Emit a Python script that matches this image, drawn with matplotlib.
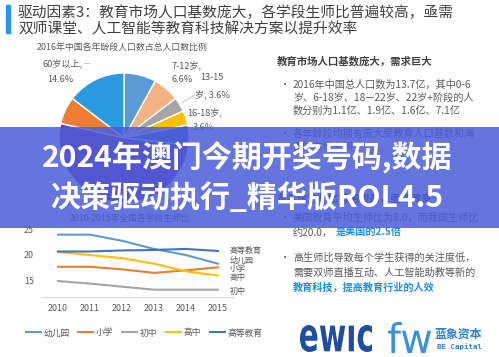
import matplotlib
matplotlib.use("Agg")
import matplotlib.pyplot as plt
from matplotlib.patches import Rectangle, PathPatch
from matplotlib.textpath import TextPath
from matplotlib.font_manager import FontProperties
from matplotlib.transforms import Affine2D

plt.rcParams['font.family'] = ['Noto Sans CJK SC', 'DejaVu Sans']

W, H = 499, 357

# pie: 2016 population share by age group
age_groups = ['0-6岁', '7-12岁', '13-15岁', '16-18岁', '19-25岁', '26-59岁', '51-60岁', '60岁以上']
age_share = [8.0, 6.6, 3.6, 3.6, 5.0, 51.8, 6.8, 14.6]
age_colors = ['#5b9bd5', '#f4b183', '#a5a5a5', '#ffc000', '#4472c4', '#7a3aa8', '#ed7d31', '#2b9ae0']

# line chart: student-teacher ratio 2010-2015
years = ['2010', '2011', '2012', '2013', '2014', '2015']
stages = ['幼儿园', '小学', '初中', '高中', '高等教育']
ratio = {
    '幼儿园': [23.9, 23.9, 22.7, 21.1, 19.9, 18.2],
    '小学': [17.6, 17.6, 17.1, 16.4, 16.9, 17.5],
    '初中': [14.8, 14.3, 13.7, 13.1, 13.1, 13.1],
    '高中': [20.5, 19.9, 19.3, 18.2, 16.7, 15.9],
    '高等教育': [20.6, 20.6, 20.8, 20.9, 21.1, 20.7],
}
stage_colors = {'幼儿园': '#5b9bd5', '小学': '#ed7d31', '初中': '#a5a5a5',
                '高中': '#ffc000', '高等教育': '#4472c4'}
end_label_shift = {'幼儿园': 3, '小学': -1, '初中': -1.5, '高中': -2.5, '高等教育': 1}


def box(x0, y0, x1, y1):
    return [x0 / W, 1 - y1 / H, (x1 - x0) / W, (y1 - y0) / H]


fig = plt.figure(figsize=(W / 100, H / 100), dpi=100)
fig.patch.set_facecolor('white')

bg = fig.add_axes([0, 0, 1, 1])
bg.set_xlim(0, W)
bg.set_ylim(H, 0)
bg.axis('off')

GRAY = '#595959'
DARK = '#404040'
BLUE = '#1e8fe0'

# header
bg.add_patch(Rectangle((6, 5), 4, 28, color='#2196f3'))
bg.text(18, 12.5, '驱动因素3：教育市场人口基数庞大，各学段生师比普遍较高，亟需',
        fontsize=10.6, color=DARK, va='center')
bg.text(18, 29.5, '双师课堂、人工智能等教育科技解决方案以提升效率',
        fontsize=10.6, color=DARK, va='center')
bg.text(37, 48, '2016年中国各年龄段人口数占总人口数比例', fontsize=6.4, color=GRAY, va='center')

# pie chart
pax = fig.add_axes(box(124 - 65, 138 - 65, 124 + 65, 138 + 65))
pax.pie(age_share, colors=age_colors, startangle=90, counterclock=False,
        wedgeprops=dict(edgecolor='white', linewidth=1))
pax.set_xlim(-1, 1)
pax.set_ylim(-1, 1)

lbl = dict(fontsize=6.6, color=GRAY, va='center', ha='left')
bg.text(126, 79, age_groups[0] + ',', **dict(lbl, color='white'))
bg.text(128, 94, '%.1f%%' % age_share[0], **dict(lbl, color='white'))
bg.text(172, 65, age_groups[1] + ',', **lbl)
bg.text(172, 80, '%.1f%%' % age_share[1], **lbl)
bg.text(200, 78, '13-15', **lbl)
bg.text(195, 94, '岁, %.1f%%' % age_share[2], **lbl)
bg.text(187, 112, age_groups[3] + ',', **lbl)
bg.text(193, 128, '%.1f%%' % age_share[3], **lbl)
bg.text(147, 135, age_groups[4] + ',', **dict(lbl, color='white'))
bg.text(152, 149, '%.1f%%' % age_share[4], **dict(lbl, color='white'))
bg.text(80, 159, age_groups[5] + ',', **dict(lbl, color='white'))
bg.text(84, 173, '%.1f%%' % age_share[5], **dict(lbl, color='white'))
bg.text(43, 63, age_groups[7] + ',', **lbl)
bg.text(47, 80, '%.1f%%' % age_share[7], **lbl)
bg.plot([84, 90], [63, 63], color='#bfbfbf', lw=0.6)
bg.plot([196, 182], [94, 103], color='#bfbfbf', lw=0.6)
bg.plot([186, 181], [112, 115], color='#bfbfbf', lw=0.6)

# right text column
bg.text(277, 61, '教育市场人口基数庞大，需求巨大', fontsize=7.5, color=DARK,
        weight='bold', va='center')
body = dict(fontsize=7.3, color=GRAY, va='center')
bg.text(280, 85, '•', **body)
bg.text(293, 85, '2016年中国总人口数为13.7亿，其中0-6', **body)
bg.text(293, 98, '岁、6-18岁、18—22岁、22岁+阶段的人', **body)
bg.text(293, 111, '数分别为1.1亿、1.9亿、1.6亿、7.1亿', **body)
bg.text(280, 134, '•', **body)
bg.text(293, 134, '各年龄段均拥有庞大受教育人口基数和海', **body)
bg.text(293, 147, '量的市场空间', **body)
bg.text(277, 198, '各学段生师比普遍较高，亟需改变', fontsize=7.5, color=DARK,
        weight='bold', va='center')
bg.text(280, 218, '•', **body)
bg.text(293, 218, '美国教育平均生师比为8.0，而我国生师比', **body)
bg.text(293, 233, '约20.0，', **body)
bg.text(336, 233, '是美国的2.5倍', **dict(body, color=BLUE, weight='bold'))
bg.text(280, 258, '•', **body)
bg.text(293, 258, '高生师比导致每个学生获得的关注度低，', **body)
bg.text(293, 273, '需要双师直播互动、人工智能助教等新的', **body)
bg.text(293, 288, '教育科技，提高教育行业的人效', **dict(body, color=BLUE, weight='bold'))

# logos
def logo(txt, x0, y0, x1, y1, color, prop):
    tp = TextPath((0, 0), txt, size=1, prop=prop)
    bb = tp.get_extents()
    tr = Affine2D().translate(-bb.x0, -bb.y0).scale((x1 - x0) / bb.width,
                                                     -(y1 - y0) / bb.height).translate(x0, y1)
    bg.add_patch(PathPatch(tr.transform_path(tp), color=color, lw=0))


logo('ewıc', 300, 325, 372, 352, '#1f4e9e', FontProperties(family='DejaVu Sans', weight='bold'))
logo('fw', 388, 322, 431, 353, '#3a90de', FontProperties(family='DejaVu Sans'))
bg.text(435, 334, '蓝象资本', fontsize=8.6, color='#2b7fd4', weight='bold', va='center')
bg.text(437, 347, 'BE Capital', fontsize=5.3, color='#2b7fd4', weight='bold',
        va='center', family='DejaVu Sans Mono')

# line chart
bg.text(130, 218, '2010-2015年全国各学段生师比', fontsize=6.3, color=GRAY,
        va='center', ha='center')
lax = fig.add_axes(box(42, 226, 234, 297))
xs = list(range(len(years)))
for s in stages:
    lax.plot(xs, ratio[s], color=stage_colors[s], lw=1.5, label=s)
    lax.annotate(s, xy=(xs[-1], ratio[s][-1]), xytext=(12, end_label_shift[s]),
                 textcoords='offset pixels', fontsize=5.8, color=GRAY, va='center',
                 annotation_clip=False)
lax.set_xlim(-0.5, 5.5)
lax.set_ylim(11.67, 25.6)
lax.set_xticks(xs)
lax.set_xticklabels(years)
lax.set_yticks([15, 20, 25])
lax.tick_params(axis='both', labelsize=6.4, labelcolor=GRAY, length=0, pad=5)
lax.tick_params(axis='y', pad=6)
for sp in ['top', 'right', 'left']:
    lax.spines[sp].set_visible(False)
lax.spines['bottom'].set_color('#d9d9d9')
lax.patch.set_alpha(0)
lax.legend(ncol=5, loc='center', bbox_to_anchor=(144 / W, 1 - 333 / H),
           bbox_transform=fig.transFigure, frameon=False, fontsize=6.3,
           handlelength=1.7, handletextpad=0.3, columnspacing=1.0, labelcolor=GRAY)

# overlay banner
ov = fig.add_axes([0, 0, 1, 1], zorder=10)
ov.set_xlim(0, W)
ov.set_ylim(H, 0)
ov.axis('off')
ov.patch.set_alpha(0)
ov.add_patch(Rectangle((0, 127), W, 101, color='#4a5cd9', alpha=0.85, lw=0))
ov.text(247, 158, '2024年澳门今期开奖号码,数据', fontsize=21.6, color='white',
        weight='bold', ha='center', va='center')
ov.text(247, 198, '决策驱动执行_精华版ROL4.5', fontsize=21.6, color='white',
        weight='bold', ha='center', va='center')

fig.savefig('out.png', dpi=100)
